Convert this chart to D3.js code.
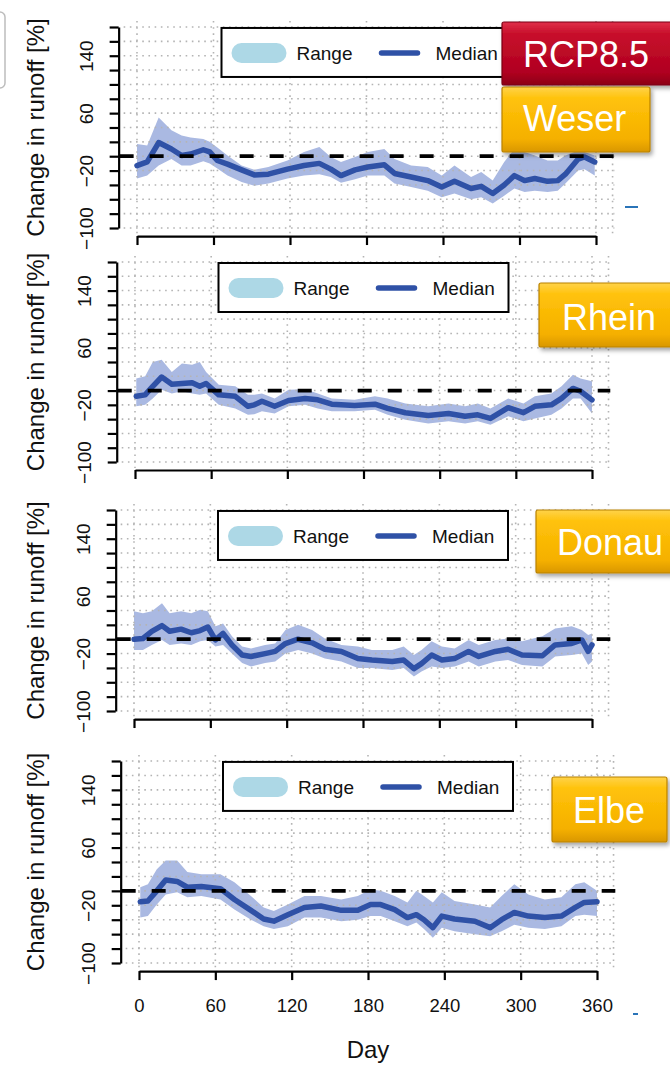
<!DOCTYPE html>
<html>
<head>
<meta charset="utf-8">
<script src="https://cdn.jsdelivr.net/npm/d3@7"></script>
<style>
  html, body { margin: 0; padding: 0; background: #fff; }
  svg { display: block; font-family: "Liberation Sans", Arial, sans-serif; }
</style>
</head>
<body>
<div id="container"></div>
<script>
// ---- data ----
const rivers = ['Weser', 'Rhein', 'Donau', 'Elbe'];
const scenario = 'RCP8.5';
const xTicks = [0, 60, 120, 180, 240, 300, 360];
const yTicks = d3.range(-100, 181, 20);
const yLabels = [-100, -20, 60, 140];
const legendNames = ['Range', 'Median'];

const wDay = [0, 8, 17, 27, 35, 42, 52, 57, 63, 71, 82, 92, 103, 118, 131, 143, 152, 160, 171, 181, 194, 202, 215, 228, 239, 249, 262, 270, 279, 288, 296, 304, 312, 322, 330, 336, 346, 351, 359];
const wMed = [-13, -8, 19, 10, 1, 3, 9, 6, -6, -11, -19, -26, -25, -18, -13, -10, -18, -27, -19, -15, -12, -24, -29, -34, -43, -35, -45, -42, -52, -40, -27, -34, -31, -35, -34, -25, -4, -1, -8];
const wLo = [-31, -27, -13, -4, -13, -13, -7, -10, -17, -27, -36, -41, -38, -31, -27, -25, -29, -37, -32, -27, -27, -38, -43, -48, -57, -52, -60, -57, -66, -55, -45, -50, -48, -50, -48, -38, -20, -18, -27];
const wHi = [17, 15, 54, 36, 29, 26, 24, 20, 12, 1, -13, -19, -15, -6, 6, 13, -1, -8, -1, 6, 10, -4, -13, -15, -27, -13, -29, -22, -34, -8, 10, 6, 1, -6, -6, 1, 8, 6, 1];

const rDay = [1, 8, 14, 21, 29, 37, 45, 51, 56, 66, 79, 89, 94, 100, 110, 121, 134, 144, 155, 173, 189, 199, 213, 231, 247, 260, 270, 280, 294, 306, 315, 328, 336, 345, 351, 360];
const rMed = [-8, -6, 6, 19, 9, 10, 11, 6, 10, -6, -8, -22, -20, -15, -22, -14, -11, -13, -19, -21, -19, -25, -31, -35, -32, -36, -34, -39, -24, -31, -22, -20, -11, 3, -1, -13];
const rLo = [-22, -20, -11, 1, -4, -1, -4, -6, -4, -20, -25, -34, -33, -29, -32, -22, -20, -25, -29, -29, -27, -34, -41, -46, -43, -46, -43, -48, -36, -43, -39, -34, -25, -11, -11, -32];
const rHi = [17, 20, 40, 43, 26, 38, 36, 40, 26, 8, 6, -6, -6, -4, -11, 1, 2, -4, -11, -13, -8, -11, -18, -22, -18, -22, -18, -25, -11, -18, -8, -4, 6, 22, 17, 13];

const dDay = [0, 7, 14, 22, 28, 37, 45, 52, 58, 64, 70, 77, 85, 92, 103, 111, 119, 129, 140, 150, 163, 176, 187, 203, 212, 220, 226, 234, 242, 252, 263, 271, 284, 294, 305, 321, 331, 344, 352, 357, 360];
const dMed = [0, 1, 11, 19, 11, 14, 9, 12, 17, -1, 8, -8, -22, -24, -20, -17, -6, 0, -5, -14, -17, -27, -29, -31, -29, -41, -34, -22, -29, -27, -17, -24, -17, -14, -22, -23, -8, -6, -1, -17, -8];
const dLo = [-15, -15, -8, -1, -8, -6, -8, -3, -1, -10, -8, -20, -33, -38, -33, -31, -20, -15, -20, -27, -31, -40, -40, -43, -40, -52, -45, -38, -40, -38, -31, -38, -31, -29, -36, -38, -24, -22, -20, -36, -31];
const dHi = [39, 36, 39, 50, 36, 39, 36, 41, 39, 18, 22, 4, -10, -13, -8, -6, 13, 20, 13, 1, -8, -10, -15, -15, -10, -22, -15, -3, -10, -13, -1, -8, -1, 1, -3, 4, 15, 18, 13, 6, 8];

const eDay = [1, 7, 14, 21, 30, 38, 49, 64, 75, 88, 98, 106, 117, 130, 143, 159, 172, 182, 190, 201, 211, 218, 224, 231, 238, 248, 264, 276, 285, 295, 306, 319, 332, 343, 350, 360];
const eMed = [-15, -14, 0, 15, 13, 5, 6, 3, -12, -27, -39, -42, -33, -23, -21, -27, -27, -19, -19, -26, -37, -33, -40, -51, -35, -39, -42, -51, -40, -30, -35, -37, -35, -23, -16, -15];
const eLo = [-37, -35, -19, -5, -2, -9, -7, -12, -26, -40, -49, -53, -49, -37, -37, -42, -40, -35, -35, -42, -49, -44, -53, -65, -51, -56, -60, -63, -56, -47, -51, -53, -49, -35, -33, -35];
const eHi = [5, 9, 30, 42, 42, 26, 23, 23, 12, -7, -23, -28, -19, -7, -7, -12, -7, 2, 0, -7, -16, 0, -7, -16, -2, -14, -19, -23, -7, 9, -5, -12, -9, 9, 12, 0];

const series = [
    { day: wDay, med: wMed, lo: wLo, hi: wHi },
    { day: rDay, med: rMed, lo: rLo, hi: rHi },
    { day: dDay, med: dMed, lo: dLo, hi: dHi },
    { day: eDay, med: eMed, lo: eLo, hi: eHi }
];

// ---- layout of the four stacked panels ----
const layout = [
    { top: 27, bottom: 228, x0: 137, x1: 596 },
    { top: 262, bottom: 462, x0: 135, x1: 592 },
    { top: 510, bottom: 711, x0: 134, x1: 592 },
    { top: 761, bottom: 963, x0: 139, x1: 597 }
];

const bandColor = '#aab9e2';
const medColor = '#2f51a6';
const fmt = d => (d < 0 ? '\u2212' + Math.abs(d) : String(d));

const svg = d3.select('#container').append('svg')
    .attr('width', 670)
    .attr('height', 1067);

const defs = svg.append('defs');

layout.forEach((p, i) => {
    const s = series[i];
    const x = d3.scaleLinear().domain([0, 360]).range([p.x0, p.x1]);
    const y = d3.scaleLinear().domain([-100, 180]).range([p.bottom, p.top]);
    // R style 4% padding of the plot region
    const L = x(-14.4), R = x(374.4), T = y(191.2), B = y(-111.2);
    const rows = s.day.map((d, k) => ({ day: d, med: s.med[k], lo: s.lo[k], hi: s.hi[k] }));

    const g = svg.append('g');

    // range band
    g.append('path')
        .datum(rows)
        .attr('d', d3.area().x(d => x(d.day)).y0(d => y(d.lo)).y1(d => y(d.hi)))
        .attr('fill', bandColor);

    // dotted grid
    const grid = g.append('g')
        .attr('stroke', '#b4b4b4')
        .attr('stroke-width', 1.6)
        .attr('stroke-dasharray', '1.6 4.6');
    grid.selectAll('.h').data(yTicks).join('line')
        .attr('x1', L + 5).attr('x2', R)
        .attr('y1', d => y(d)).attr('y2', d => y(d));
    grid.selectAll('.v').data(xTicks.concat([373])).join('line')
        .attr('x1', d => x(d)).attr('x2', d => x(d))
        .attr('y1', T + 2).attr('y2', B - 2);

    // median
    g.append('path')
        .datum(rows)
        .attr('d', d3.line().x(d => x(d.day)).y(d => y(d.med)))
        .attr('fill', 'none')
        .attr('stroke', medColor)
        .attr('stroke-width', 5.5)
        .attr('stroke-linejoin', 'round')
        .attr('stroke-linecap', 'round');

    // zero line
    g.append('line')
        .attr('x1', L + 1).attr('x2', R)
        .attr('y1', y(0)).attr('y2', y(0))
        .attr('stroke', '#000')
        .attr('stroke-width', 3.8)
        .attr('stroke-dasharray', '14 16');

    // y axis
    const ya = g.append('g')
        .attr('transform', `translate(${L},0)`)
        .call(d3.axisLeft(y).tickValues(yTicks).tickSize(9).tickSizeOuter(0)
            .tickFormat(d => (yLabels.includes(d) ? fmt(d) : '')));
    ya.select('.domain').attr('stroke-width', 2.2);
    ya.selectAll('.tick line').attr('stroke-width', 2.2);
    ya.selectAll('.tick text')
        .attr('x', 0).attr('y', 0).attr('dy', null)
        .attr('text-anchor', 'middle')
        .attr('font-size', 19)
        .attr('font-family', 'Liberation Sans, Arial, sans-serif')
        .attr('fill', '#111')
        .attr('transform', 'translate(-26,0) rotate(-90)');

    // x axis
    const xa = g.append('g')
        .attr('transform', `translate(0,${B})`)
        .call(d3.axisBottom(x).tickValues(xTicks).tickSize(9).tickSizeOuter(0).tickPadding(19)
            .tickFormat(d => (i === 3 ? d : '')));
    xa.select('.domain').attr('stroke-width', 2.2);
    xa.selectAll('.tick line').attr('stroke-width', 2.2);
    xa.selectAll('.tick text')
        .attr('font-size', 18.5)
        .attr('font-family', 'Liberation Sans, Arial, sans-serif')
        .attr('fill', '#111');

    // y title
    g.append('text')
        .attr('transform', `translate(44,${(T + B) / 2}) rotate(-90)`)
        .attr('text-anchor', 'middle')
        .attr('font-size', 24)
        .attr('fill', '#111')
        .text('Change in runoff [%]');

    // legend
    const lw = 290, lh = 49;
    const lx = (L + R) / 2 - lw / 2, ly = T + 9;
    const lg = g.append('g').attr('transform', `translate(${lx},${ly})`);
    lg.append('rect')
        .attr('width', lw).attr('height', lh)
        .attr('fill', '#fff').attr('stroke', '#000').attr('stroke-width', 2);
    lg.append('line')
        .attr('x1', 20).attr('x2', 55).attr('y1', 25).attr('y2', 25)
        .attr('stroke', '#add8e6').attr('stroke-width', 20).attr('stroke-linecap', 'round');
    lg.append('line')
        .attr('x1', 160).attr('x2', 196).attr('y1', 25).attr('y2', 25)
        .attr('stroke', medColor).attr('stroke-width', 5.5).attr('stroke-linecap', 'round');
    lg.selectAll('text').data(legendNames).join('text')
        .attr('x', (d, k) => (k === 0 ? 75 : 214))
        .attr('y', 25).attr('dy', '0.35em')
        .attr('font-size', 19)
        .attr('fill', '#111')
        .text(d => d);

    if (i === 3) {
        g.append('text')
            .attr('x', (x(0) + x(360)) / 2)
            .attr('y', 1058)
            .attr('text-anchor', 'middle')
            .attr('font-size', 24)
            .attr('fill', '#111')
            .text('Day');
    }
});

// ---- slide badges ----
const yellow = defs.append('linearGradient').attr('id', 'gy').attr('x1', 0).attr('x2', 0).attr('y1', 0).attr('y2', 1);
yellow.append('stop').attr('offset', '0%').attr('stop-color', '#ffd34a');
yellow.append('stop').attr('offset', '18%').attr('stop-color', '#ffc20a');
yellow.append('stop').attr('offset', '80%').attr('stop-color', '#f5b000');
yellow.append('stop').attr('offset', '100%').attr('stop-color', '#d99700');
const red = defs.append('linearGradient').attr('id', 'gr').attr('x1', 0).attr('x2', 0).attr('y1', 0).attr('y2', 1);
red.append('stop').attr('offset', '0%').attr('stop-color', '#e0304a');
red.append('stop').attr('offset', '18%').attr('stop-color', '#c8102c');
red.append('stop').attr('offset', '80%').attr('stop-color', '#b00020');
red.append('stop').attr('offset', '100%').attr('stop-color', '#8c0016');
defs.append('filter').attr('id', 'sh').attr('x', '-10%').attr('y', '-10%').attr('width', '130%').attr('height', '140%')
    .append('feDropShadow').attr('dx', 2).attr('dy', 3).attr('stdDeviation', 2).attr('flood-color', '#000').attr('flood-opacity', 0.35);

const badges = [
    { label: scenario, x: 502, y: 22, w: 175, h: 63, fill: 'url(#gr)', stroke: '#7a0012', tx: 523, ty: 54 },
    { label: rivers[0], x: 502, y: 87, w: 148, h: 65, fill: 'url(#gy)', stroke: '#b98200', tx: 523, ty: 118 },
    { label: rivers[1], x: 539, y: 283, w: 140, h: 64, fill: 'url(#gy)', stroke: '#b98200', tx: 562, ty: 317 },
    { label: rivers[2], x: 536, y: 510, w: 140, h: 63, fill: 'url(#gy)', stroke: '#b98200', tx: 557, ty: 542 },
    { label: rivers[3], x: 552, y: 777, w: 115, h: 65, fill: 'url(#gy)', stroke: '#b98200', tx: 573, ty: 810 }
];
const bg = svg.append('g');
badges.forEach(b => {
    bg.append('rect')
        .attr('x', b.x).attr('y', b.y).attr('width', b.w).attr('height', b.h)
        .attr('rx', 2)
        .attr('fill', b.fill).attr('stroke', b.stroke).attr('stroke-width', 1.2)
        .attr('filter', 'url(#sh)');
    bg.append('text')
        .attr('x', b.tx).attr('y', b.ty).attr('dy', '0.35em')
        .attr('font-size', 36)
        .attr('fill', '#fff')
        .text(b.label);
});

// small leftovers from the slide
svg.append('rect').attr('x', -30).attr('y', 12).attr('width', 35).attr('height', 76).attr('rx', 5)
    .attr('fill', '#fff').attr('stroke', '#bdbdbd').attr('stroke-width', 1.5);
svg.append('line').attr('x1', 625).attr('x2', 638).attr('y1', 207).attr('y2', 207)
    .attr('stroke', '#2a74b8').attr('stroke-width', 2);
svg.append('line').attr('x1', 633).attr('x2', 638).attr('y1', 1014).attr('y2', 1014)
    .attr('stroke', '#2a74b8').attr('stroke-width', 2);
</script>
</body>
</html>
